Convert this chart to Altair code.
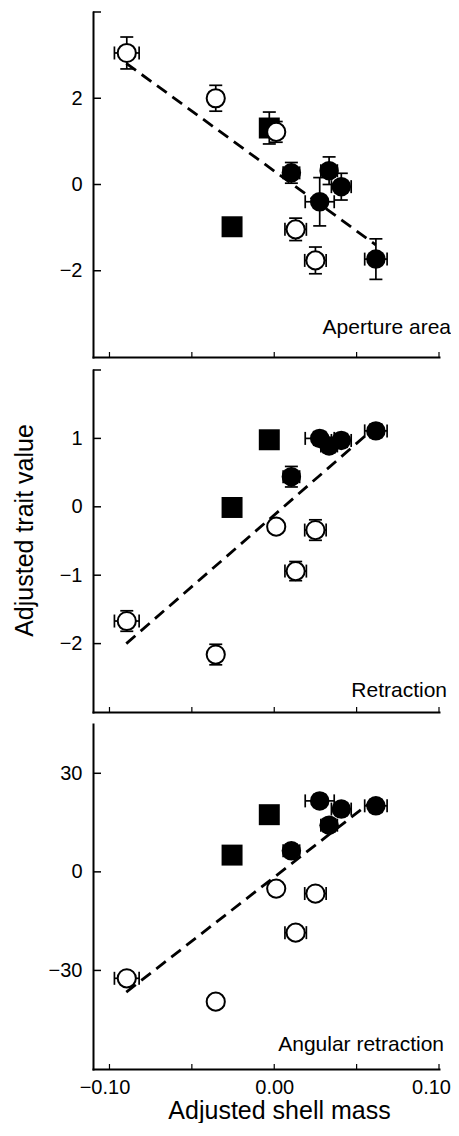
import altair as alt
import pandas as pd

FONT = "Liberation Sans"

# populations (shared shell-mass values)
group = ["open", "open", "square", "square", "open", "filled",
         "open", "open", "filled", "filled", "filled", "filled"]
mass = [-0.0895, -0.0355, -0.0256, -0.0030, 0.0012, 0.0104,
        0.0130, 0.0250, 0.0276, 0.0333, 0.0407, 0.0617]
mass_err = [0.0075, 0.004, 0.003, 0.003, 0.004, 0.005,
            0.0065, 0.0065, 0.0088, 0.005, 0.006, 0.0068]

aperture = [3.05, 2.00, -0.98, 1.31, 1.22, 0.27, -1.04, -1.76, -0.40, 0.32, -0.05, -1.73]
aperture_err = [0.37, 0.30, 0.08, 0.37, 0.24, 0.24, 0.26, 0.31, 0.56, 0.32, 0.31, 0.47]

retraction = [-1.67, -2.16, -0.01, 0.98, -0.29, 0.44, -0.94, -0.34, 1.00, 0.89, 0.97, 1.11]
retraction_err = [0.15, 0.15, 0.05, 0.05, 0.08, 0.15, 0.14, 0.15, 0.10, 0.10, 0.10, 0.10]

angular = [-32.4, -39.5, 5.1, 17.4, -5.1, 6.4, -18.5, -6.6, 21.6, 14.2, 19.1, 20.1]
angular_err = [2.0, 2.0, 1.5, 1.5, 2.0, 2.0, 2.0, 2.0, 2.0, 2.0, 2.0, 2.0]

fit_x = [-0.0898, 0.0616]
aperture_fit = [2.81, -1.40]
retraction_fit = [-2.00, 1.17]
angular_fit = [-36.6, 22.4]

x_ticks = [-0.10, -0.05, 0.00, 0.05, 0.10]
x_labels = [-0.10, 0.00, 0.10]

W = 346


def panel(y, yerr, fit_y, ydomain, yticks, ylabels, height, label, lx, ly,
          bottom=False, ytitle=False):
    df = pd.DataFrame({"x": mass, "xerr": mass_err, "y": y, "yerr": yerr, "g": group})
    df["ylo"] = df["y"] - df["yerr"]
    df["yhi"] = df["y"] + df["yerr"]
    df["xlo"] = df["x"] - df["xerr"]
    df["xhi"] = df["x"] + df["xerr"]

    xs = alt.Scale(domain=[-0.11, 0.10], nice=False, zero=False)
    ys = alt.Scale(domain=ydomain, nice=False, zero=False)

    xax_kw = dict(values=x_labels, format=".2f", labels=bottom, ticks=False, tickSize=0,
                  labelPadding=8, labelFlush=False, domainCap="square", grid=False)
    if bottom:
        xax_kw.update(title="Adjusted shell mass", titleX=186, titleY=49,
                      titleBaseline="alphabetic",
                      labelOffset=alt.ExprRef(
                          "datum.value < 0 ? -5 : (datum.value > 0.05 ? -8 : 0)"))
    else:
        xax_kw.update(title=None)
    xaxis = alt.Axis(**xax_kw)

    yax_kw = dict(values=ylabels, format="d", ticks=False, tickSize=0, labelPadding=11,
                  domainCap="square", grid=False)
    if ytitle:
        yax_kw.update(title="Adjusted trait value", titleX=-61, titleY=160,
                      titleBaseline="alphabetic", titleAngle=270)
    else:
        yax_kw.update(title=None)
    yaxis = alt.Axis(**yax_kw)

    def X(f):
        return alt.X(f, type="quantitative", scale=xs, axis=xaxis)

    def Y(f):
        return alt.Y(f, type="quantitative", scale=ys, axis=yaxis)

    base = alt.Chart(df)
    ew = 1.7

    yerr_rule = base.mark_rule(color="black", strokeWidth=ew).encode(
        x=X("x"), y=Y("ylo"), y2="yhi")
    xerr_rule = base.mark_rule(color="black", strokeWidth=ew).encode(
        y=Y("y"), x=X("xlo"), x2="xhi")
    ycap_lo = base.mark_tick(orient="horizontal", size=13, thickness=ew,
                             color="black", opacity=1).encode(x=X("x"), y=Y("ylo"))
    ycap_hi = base.mark_tick(orient="horizontal", size=13, thickness=ew,
                             color="black", opacity=1).encode(x=X("x"), y=Y("yhi"))
    xcap_lo = base.mark_tick(orient="vertical", size=13, thickness=ew,
                             color="black", opacity=1).encode(x=X("xlo"), y=Y("y"))
    xcap_hi = base.mark_tick(orient="vertical", size=13, thickness=ew,
                             color="black", opacity=1).encode(x=X("xhi"), y=Y("y"))

    fit = alt.Chart(pd.DataFrame({"fx": fit_x, "fy": fit_y})).mark_line(
        color="black", strokeWidth=2.8, strokeDash=[12, 7]).encode(x=X("fx"), y=Y("fy"))

    squares = base.transform_filter(alt.datum.g == "square").mark_point(
        shape="square", filled=True, color="black", size=440, opacity=1
    ).encode(x=X("x"), y=Y("y"))
    opens = base.transform_filter(alt.datum.g == "open").mark_point(
        shape="circle", filled=True, fill="white", stroke="black", strokeWidth=2,
        size=330, opacity=1
    ).encode(x=X("x"), y=Y("y"))
    filleds = base.transform_filter(alt.datum.g == "filled").mark_point(
        shape="circle", filled=True, color="black", size=380, opacity=1
    ).encode(x=X("x"), y=Y("y"))

    ytick = alt.Chart(pd.DataFrame({"v": yticks})).mark_rule(
        color="black", strokeWidth=1.5).encode(y=Y("v"), x=alt.value(0), x2=alt.value(8))
    xtick = alt.Chart(pd.DataFrame({"v": x_ticks})).mark_rule(
        color="black", strokeWidth=1.2).encode(x=X("v"), y=alt.value(height),
                                               y2=alt.value(height - 5))

    txt = alt.Chart(pd.DataFrame({"t": [label]})).mark_text(
        align="right", baseline="alphabetic", fontSize=21, font=FONT, color="black",
        x=lx, y=ly).encode(text="t:N")

    return alt.layer(
        yerr_rule, xerr_rule, ycap_lo, ycap_hi, xcap_lo, xcap_hi,
        fit, squares, opens, filleds, ytick, xtick, txt
    ).properties(width=W, height=height)


p1 = panel(aperture, aperture_err, aperture_fit, [-4, 4], [-2, 0, 2, 4], [-2, 0, 2],
           345, "Aperture area", 358, 322)
p2 = panel(retraction, retraction_err, retraction_fit, [-3, 2], [-2, -1, 0, 1, 2],
           [-2, -1, 0, 1], 342, "Retraction", 354, 327, ytitle=True)
p3 = panel(angular, angular_err, angular_fit, [-60, 45], [-30, 0, 30], [-30, 0, 30],
           345, "Angular retraction", 351, 327, bottom=True)

chart = alt.vconcat(p1, p2, p3, spacing=11).properties(
    padding={"left": 4, "top": 3, "right": 0, "bottom": 0}
).configure_view(stroke=None).configure_axis(
    domainColor="black", domainWidth=2, labelFont=FONT, labelFontSize=20,
    labelColor="black", titleFont=FONT, titleFontSize=25, titleFontWeight="normal",
    titleColor="black"
)

chart.save("out.html", embed_options={"renderer": "svg", "actions": False})
